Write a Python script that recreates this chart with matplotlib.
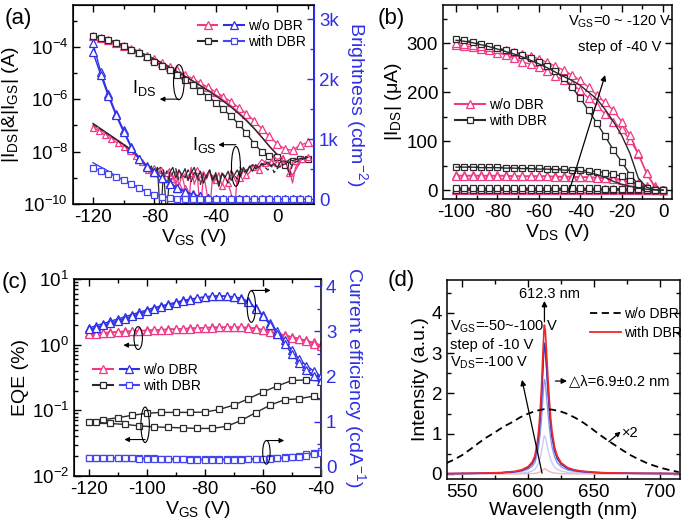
import numpy as np
import matplotlib
matplotlib.use("Agg")
import matplotlib.pyplot as plt
from matplotlib.patches import Ellipse
from matplotlib.lines import Line2D
from matplotlib.legend_handler import HandlerTuple
from matplotlib.ticker import MultipleLocator, FixedLocator, FuncFormatter, LogLocator, NullFormatter

plt.rcParams['font.family'] = ['Liberation Sans', 'DejaVu Sans']
plt.rcParams['mathtext.fontset'] = 'custom'
plt.rcParams['mathtext.rm'] = 'Liberation Sans'
plt.rcParams['mathtext.it'] = 'Liberation Sans:italic'
plt.rcParams['mathtext.default'] = 'regular'
plt.rcParams['axes.unicode_minus'] = False

# %% panel (a): transfer curves, log10 of current, and brightness
vgs_a = np.arange(-120, 21, 5)
ids_wo_fwd_log = [-3.58, -3.66, -3.75, -3.85, -3.96, -4.08, -4.2, -4.33, -4.46, -4.6, -4.75, -4.9, -5.06, -5.22,
                  -5.38, -5.55, -5.72, -5.9, -6.1, -6.32, -6.55, -6.82, -7.12, -7.42, -7.7, -7.9, -7.95, -7.75, -7.65]
ids_wo_rev_log = [-3.6, -3.68, -3.78, -3.88, -4.0, -4.12, -4.25, -4.38, -4.52, -4.67, -4.82, -4.98, -5.14, -5.3,
                  -5.47, -5.65, -5.83, -6.03, -6.25, -6.5, -6.78, -7.1, -7.45, -7.8, -8.1, -8.5, -8.9, -8.4, -8.3]
ids_w_fwd_log = [-3.58, -3.65, -3.74, -3.85, -3.97, -4.1, -4.24, -4.4, -4.56, -4.73, -4.9, -5.08, -5.27, -5.47,
                 -5.68, -5.9, -6.13, -6.38, -6.65, -6.95, -7.3, -7.7, -8.0, -8.15, -8.2, -8.5, -8.35, -8.3, -8.27]
ids_w_rev_log = [-3.57, -3.64, -3.72, -3.82, -3.93, -4.05, -4.18, -4.32, -4.46, -4.62, -4.78, -4.95, -5.12, -5.3,
                 -5.48, -5.67, -5.87, -6.08, -6.3, -6.55, -6.82, -7.12, -7.45, -7.8, -8.12, -8.35, -8.45, -8.32, -8.25]

vgs_igs = np.arange(-120, 21, 2)
igs_wo_1_log = [-7.1, -7.15, -7.22, -7.3, -7.37, -7.45, -7.52, -7.6, -7.67, -7.75, -7.82, -7.9, -7.98, -8.05, -8.15,
                -8.25, -8.38, -8.5,
                -8.7, -8.85, -8.62, -8.95, -8.7, -9.1, -8.8, -8.65, -9.05, -8.75, -9.3, -8.9, -9.4, -10.5, -8.8,
                -9.0, -8.7, -9.2, -8.85, -9.5, -10.3, -8.9, -9.1, -8.8, -9.3, -8.95, -9.2, -9.6, -10.5, -8.9,
                -9.0, -8.7, -8.9,
                -8.8, -8.6, -8.55, -8.7, -8.5, -8.45, -8.5, -8.4, -8.35, -8.45, -8.6, -8.3, -8.5, -8.8, -8.4,
                -8.35, -8.3, -8.28, -8.25, -8.2]
igs_wo_2_log = [-7.0, -7.08, -7.15, -7.22, -7.3, -7.38, -7.45, -7.52, -7.6, -7.68, -7.76, -7.84, -7.92, -8.0, -8.1,
                -8.2, -8.32, -8.45,
                -8.6, -8.9, -8.7, -9.0, -8.75, -8.9, -9.2, -8.8, -8.95, -9.3, -8.7, -9.0, -8.85, -9.1, -8.6,
                -9.25, -8.9, -10.4, -8.8, -9.05, -8.75, -9.2, -8.9, -9.35, -8.8, -9.0, -9.15, -8.7, -9.0, -9.25,
                -8.85, -8.7, -8.8,
                -8.6, -8.5, -8.65, -8.45, -8.3, -8.4, -8.5, -8.35, -8.2, -8.3, -8.25, -8.15, -8.5, -8.7, -9.2,
                -8.6, -8.4, -8.3, -8.25, -8.2]
igs_w_1_log = [-6.92, -7.0, -7.08, -7.16, -7.24, -7.32, -7.4, -7.48, -7.56, -7.64, -7.72, -7.8, -7.9, -8.0, -8.1,
               -8.22, -8.35, -8.5,
               -8.7, -8.55, -8.9, -8.6, -10.6, -8.7, -10.5, -8.8, -8.6, -9.0, -8.7, -8.9, -8.65, -9.1, -8.8,
               -8.6, -9.0, -8.75, -9.2, -8.9, -8.7, -9.1, -8.8, -9.3, -8.85, -9.0, -8.75, -9.1, -8.9, -8.7,
               -8.95, -8.6, -8.8,
               -8.55, -8.75, -8.5, -8.6, -8.45, -8.5, -8.4, -8.55, -8.45, -8.6, -8.4, -8.35, -8.4, -8.3, -8.35,
               -8.3, -8.28, -8.25, -8.25, -8.22]
igs_w_2_log = [-6.95, -7.03, -7.1, -7.18, -7.26, -7.34, -7.42, -7.5, -7.58, -7.66, -7.74, -7.83, -7.92, -8.02, -8.12,
               -8.25, -8.38, -8.52,
               -8.8, -8.65, -9.0, -8.7, -8.6, -9.05, -8.75, -9.2, -8.8, -8.65, -9.1, -8.85, -9.0, -8.7, -9.15,
               -8.8, -8.95, -9.25, -8.85, -9.0, -8.7, -9.1, -8.9, -9.3, -8.8, -8.95, -9.2, -8.75, -8.9, -9.05,
               -8.6, -8.8, -8.7,
               -8.6, -8.5, -8.65, -8.55, -8.45, -8.6, -8.7, -8.5, -8.8, -8.65, -8.55, -8.5, -8.45, -8.9, -8.5,
               -8.4, -8.35, -8.3, -8.25, -8.2]

br_wo_fwd = [2600, 2130, 1760, 1430, 1150, 880, 680, 560, 460, 360, 270, 195, 130, 85, 50, 25, 10, 4,
             0, 0, 0, 0, 0, 0, 0, 0, 0, 0, 0]
br_wo_rev = [2450, 2080, 1720, 1400, 1120, 860, 665, 545, 450, 350, 262, 188, 125, 80, 48, 23, 9, 3,
             0, 0, 0, 0, 0, 0, 0, 0, 0, 0, 0]
br_w_fwd = [610, 540, 470, 390, 320, 250, 180, 130, 90, 60, 35, 18, 8, 3,
            0, 0, 0, 0, 0, 0, 0, 0, 0, 0, 0, 0, 0, 0, 0]
br_w_rev = [520, 480, 430, 380, 320, 260, 195, 130, 80, 45, 22, 10, 5, 2,
            0, 0, 0, 0, 0, 0, 0, 0, 0, 0, 0, 0, 0, 0, 0]

# %% panel (b): output curves (uA), VGS = -120, -80, -40, 0 V
vds_b = np.arange(-100, 1, 4)
ids_wo_120_a = [300, 299, 297, 295, 292, 289, 286, 282, 278, 274, 268, 261, 253, 245, 235, 224, 210, 194, 179,
                163, 140, 112, 75, 35, 5, 0]
ids_wo_120_b = [297, 295, 292, 289, 286, 281, 276, 269, 262, 257, 251, 243, 233, 225, 216, 204, 188, 172, 156,
                140, 124, 103, 74, 35, 8, 0]
ids_w_120_a = [308, 306, 303, 299, 294, 290, 286, 282, 276, 269, 261, 253, 243, 228, 210, 188, 163, 137, 110,
               82, 58, 32, 12, 4, 1, 0]
ids_w_120_b = [306, 304, 301, 297, 293, 288, 283, 278, 272, 265, 258, 250, 241, 232, 224, 214, 200, 186, 165,
               140, 112, 75, 25, 6, 1, 0]
ids_w_80_a = [48, 48, 48, 47, 47, 47, 46, 46, 46, 45, 45, 44, 44, 43, 42, 41, 40, 38, 36, 33, 28, 20, 11, 4, 1, 0]
ids_w_80_b = [47, 47, 47, 46, 46, 46, 45, 45, 44, 44, 43, 43, 42, 41, 40, 38, 36, 32, 26, 18, 12, 8, 5, 2, 0.5, 0]
ids_wo_80_a = [30, 30, 30, 30, 30, 30, 30, 29, 29, 29, 29, 29, 28, 28, 28, 27, 27, 26, 25, 24, 22, 19, 14, 8, 2, 0]
ids_wo_80_b = [29, 29, 29, 29, 29, 29, 29, 28, 28, 28, 28, 28, 27, 27, 27, 26, 26, 25, 24, 22, 20, 16, 11, 5, 1, 0]
ids_wo_40 = [2.5, 2.5, 2.5, 2.5, 2.5, 2.5, 2.5, 2.5, 2.5, 2.5, 2.5, 2.5, 2.4, 2.4, 2.4, 2.4, 2.3, 2.3, 2.2, 2.1,
             2.0, 1.8, 1.5, 1.0, 0.4, 0]
ids_w_40 = [4, 4, 4, 4, 4, 4, 4, 4, 4, 4, 3.9, 3.9, 3.9, 3.8, 3.8, 3.7, 3.6, 3.5, 3.3, 3.1, 2.8, 2.4, 1.8, 1.0,
            0.4, 0]
ids_wo_0 = [0.2, 0.2, 0.2, 0.2, 0.2, 0.2, 0.2, 0.2, 0.2, 0.2, 0.2, 0.2, 0.2, 0.2, 0.2, 0.2, 0.2, 0.2, 0.2, 0.2,
            0.2, 0.2, 0.1, 0.1, 0.0, 0]
ids_w_0 = [0.3, 0.3, 0.3, 0.3, 0.3, 0.3, 0.3, 0.3, 0.3, 0.3, 0.3, 0.3, 0.3, 0.3, 0.3, 0.3, 0.3, 0.3, 0.3, 0.3,
           0.3, 0.2, 0.2, 0.1, 0.0, 0]

# %% panel (c): EQE (%) and current efficiency (cd/A)
vgs_c_tri = np.arange(-120, -39.9, 2.5)
vgs_c_sq = np.arange(-120, -39.9, 5)
eqe_wo_a = [1.48, 1.5, 1.52, 1.55, 1.58, 1.6, 1.62, 1.64, 1.66, 1.68, 1.7, 1.72, 1.74, 1.76, 1.78, 1.8, 1.82,
            1.84, 1.85, 1.86, 1.86, 1.85, 1.83, 1.78, 1.7, 1.6, 1.5, 1.4, 1.32, 1.24, 1.16, 1.08, 0.98]
eqe_wo_b = [1.45, 1.47, 1.49, 1.52, 1.55, 1.57, 1.6, 1.62, 1.64, 1.66, 1.68, 1.7, 1.72, 1.74, 1.76, 1.78, 1.8,
            1.82, 1.83, 1.84, 1.84, 1.83, 1.8, 1.75, 1.66, 1.56, 1.46, 1.36, 1.28, 1.2, 1.12, 1.04, 0.95]
ce_wo_a = [3.07, 3.12, 3.17, 3.22, 3.27, 3.32, 3.37, 3.42, 3.47, 3.52, 3.56, 3.6, 3.64, 3.68, 3.71, 3.74, 3.76,
           3.78, 3.78, 3.77, 3.76, 3.73, 3.66, 3.52, 3.36, 3.18, 3.0, 2.8, 2.58, 2.38, 2.24, 2.12, 2.0]
ce_wo_b = [3.04, 3.08, 3.13, 3.18, 3.23, 3.28, 3.33, 3.39, 3.44, 3.49, 3.54, 3.58, 3.62, 3.66, 3.7, 3.73, 3.75,
           3.77, 3.78, 3.78, 3.76, 3.72, 3.64, 3.5, 3.33, 3.14, 2.94, 2.72, 2.5, 2.3, 2.15, 2.02, 1.9]
eqe_w_a = [0.066, 0.072, 0.077, 0.084, 0.09, 0.093, 0.093, 0.093, 0.094, 0.103, 0.12, 0.15, 0.19, 0.235, 0.285,
           0.29, 0.28]
eqe_w_b = [0.066, 0.063, 0.061, 0.058, 0.056, 0.055, 0.054, 0.053, 0.053, 0.057, 0.07, 0.092, 0.12, 0.145, 0.15,
           0.165, 0.128]
ce_w_a = [0.20, 0.20, 0.20, 0.20, 0.20, 0.20, 0.19, 0.19, 0.19, 0.19, 0.18, 0.18, 0.18, 0.17, 0.17, 0.17, 0.17,
          0.17, 0.17, 0.17, 0.17, 0.17, 0.18, 0.18, 0.18, 0.19, 0.20, 0.21, 0.23, 0.25, 0.28, 0.31, 0.35]
ce_w_b = [0.20, 0.20, 0.20, 0.19, 0.19, 0.19, 0.19, 0.18, 0.18, 0.18, 0.18, 0.17, 0.17, 0.17, 0.16, 0.16, 0.16,
          0.16, 0.16, 0.16, 0.16, 0.16, 0.17, 0.17, 0.17, 0.18, 0.19, 0.20, 0.21, 0.23, 0.25, 0.28, 0.31]

# %% panel (d): EL spectra
wl_dbr = [538, 550, 560, 570, 580, 590, 595, 600, 603, 605, 607, 608, 609, 610, 611, 612, 612.3, 613, 614, 615,
          616, 617, 618, 620, 622, 625, 630, 635, 640, 650, 660, 680, 700, 715]
shape_dbr = [0.003, 0.004, 0.005, 0.007, 0.01, 0.018, 0.028, 0.05, 0.08, 0.12, 0.22, 0.3, 0.42, 0.57, 0.78, 0.98,
             1.0, 0.96, 0.8, 0.64, 0.5, 0.38, 0.29, 0.18, 0.12, 0.075, 0.042, 0.028, 0.02, 0.012, 0.008, 0.005,
             0.004, 0.003]
vgs_d = [-50, -60, -70, -80, -90, -100]
peak_d = [0.13, 0.95, 2.35, 3.2, 3.25, 3.7]
colors_d = ['#f4b4b4', '#c9ccf2', '#8f92ec', '#4f4fd6', '#3434b4', '#f02828']
wl_ref = [538, 544, 550, 556, 562, 568, 575, 581, 588, 594, 600, 606, 612, 618, 624, 630, 636, 642, 648, 654,
          660, 666, 672, 678, 684, 690, 696, 702, 708, 714]
int_ref = [0.27, 0.36, 0.47, 0.61, 0.76, 0.9, 1.04, 1.17, 1.29, 1.41, 1.5, 1.57, 1.61, 1.6, 1.56, 1.49, 1.39, 1.27,
           1.13, 0.98, 0.84, 0.71, 0.58, 0.46, 0.36, 0.27, 0.2, 0.14, 0.09, 0.05]

# %% styles
pink = '#ee3a86'
blk = '#2a2a2a'
blue = '#2f2fe6'
blue_sq = '#4545ee'
lab_fs = 14
tick_fs = 13.5
leg_fs = 10
mk = dict(mfc='white', mew=0.9)


def style(ax, right=True):
    ax.tick_params(which='both', direction='in', top=True, right=right, labelsize=tick_fs, width=1)
    ax.tick_params(which='major', length=5)
    ax.tick_params(which='minor', length=3)
    for s in ax.spines.values():
        s.set_linewidth(1.1)


def blue_right(ax):
    ax.spines['right'].set_color(blue)
    ax.tick_params(axis='y', which='both', direction='in', colors=blue, labelsize=tick_fs, width=1)
    ax.tick_params(axis='y', which='major', length=5)
    ax.tick_params(axis='y', which='minor', length=3)


def ellipse_arrow(ax, cx, cy, w, h, ay, ax0, ax1):
    ax.add_patch(Ellipse((cx, cy), w, h, transform=ax.transAxes, fill=False, lw=0.8, ec='k', zorder=10))
    ax.annotate('', xy=(ax1, ay), xytext=(ax0, ay), xycoords='axes fraction', textcoords='axes fraction',
                arrowprops=dict(arrowstyle='-|>', lw=0.8, color='k', mutation_scale=7, shrinkA=0, shrinkB=0),
                zorder=10)


fig = plt.figure(figsize=(6.85, 5.27), dpi=100)

# ---------------- (a)
ax_a = fig.add_axes([0.1066, 0.6129, 0.3518, 0.3776])
ax_a.set_yscale('log')
ax_a.plot(vgs_a, 10 ** np.array(ids_wo_fwd_log), color=pink, lw=1.0, marker='^', ms=5.5, **mk)
ax_a.plot(vgs_a, 10 ** np.array(ids_wo_rev_log), color=pink, lw=1.0)
ax_a.plot(vgs_a, 10 ** np.array(ids_w_rev_log), color=blk, lw=1.0)
ax_a.plot(vgs_a, 10 ** np.array(ids_w_fwd_log), color=blk, lw=1.0, marker='s', ms=4.5, **mk)
ax_a.plot(vgs_igs, 10 ** np.array(igs_wo_1_log), color=pink, lw=0.9, marker='^', ms=5, markevery=2, **mk)
ax_a.plot(vgs_igs, 10 ** np.array(igs_wo_2_log), color=pink, lw=0.9)
ax_a.plot(vgs_igs, 10 ** np.array(igs_w_1_log), color=blk, lw=0.9)
ax_a.plot(vgs_igs, 10 ** np.array(igs_w_2_log), color=blk, lw=0.9, ls=(0, (4, 2)))
ax_a.set_xlim(-133, 24)
ax_a.set_ylim(1e-10, 10 ** -2.4)
ax_a.yaxis.set_major_locator(FixedLocator([1e-10, 1e-8, 1e-6, 1e-4]))
ax_a.yaxis.set_minor_locator(FixedLocator([1e-9, 1e-7, 1e-5, 1e-3]))
ax_a.yaxis.set_minor_formatter(NullFormatter())
ax_a.xaxis.set_major_locator(MultipleLocator(40))
ax_a.xaxis.set_minor_locator(MultipleLocator(20))
style(ax_a, right=False)
ax_a.set_xlabel('V$_{GS}$ (V)', fontsize=lab_fs, labelpad=1)
ax_a.set_ylabel('|I$_{DS}$|&|I$_{GS}$| (A)', fontsize=lab_fs, labelpad=2)

ax_a2 = ax_a.twinx()
ax_a2.plot(vgs_a, br_wo_fwd, color=blue, lw=1.0, marker='^', ms=5.5, **mk)
ax_a2.plot(vgs_a, br_wo_rev, color=blue, lw=1.0, marker='^', ms=5.5, **mk)
ax_a2.plot(vgs_a, br_w_fwd, color=blue_sq, lw=1.0)
ax_a2.plot(vgs_a, br_w_rev, color=blue_sq, lw=1.0, marker='s', ms=4.5, **mk)
ax_a2.set_ylim(-78, 3240)
ax_a2.yaxis.set_major_locator(MultipleLocator(1000))
ax_a2.yaxis.set_minor_locator(MultipleLocator(500))
ax_a2.yaxis.set_major_formatter(FuncFormatter(lambda v, p: '0' if v == 0 else '%dk' % (v / 1000)))
blue_right(ax_a2)
ax_a2.set_ylabel('Brightness (cdm$^{-2}$)', fontsize=lab_fs, color=blue, rotation=270, va='bottom', labelpad=4)

h1 = [Line2D([], [], color=pink, marker='^', ms=5.5, **mk), Line2D([], [], color=blue, marker='^', ms=5.5, **mk)]
h2 = [Line2D([], [], color=blk, marker='s', ms=4.5, **mk), Line2D([], [], color=blue_sq, marker='s', ms=4.5, **mk)]
ax_a2.legend([tuple(h1), tuple(h2)], ['w/o DBR', 'with DBR'], handler_map={tuple: HandlerTuple(ndivide=None, pad=0.5)},
             handlelength=3.3, handletextpad=0.3, fontsize=leg_fs, frameon=False, loc='upper left',
             bbox_to_anchor=(0.49, 0.965), borderpad=0, labelspacing=0.15)

ellipse_arrow(ax_a2, 0.439, 0.612, 0.044, 0.176, 0.527, 0.439, 0.36)
ax_a2.text(0.345, 0.585, 'I$_{DS}$', transform=ax_a2.transAxes, fontsize=13, ha='right', va='center')
ellipse_arrow(ax_a2, 0.676, 0.189, 0.037, 0.2, 0.298, 0.676, 0.603)
ax_a2.text(0.598, 0.294, 'I$_{GS}$', transform=ax_a2.transAxes, fontsize=13, ha='right', va='center')
fig.text(0.007, 0.985, '(a)', fontsize=16, va='top')

# ---------------- (b)
ax_b = fig.add_axes([0.6467, 0.6224, 0.3343, 0.3681])
for y in [ids_wo_0, ids_wo_40, ids_wo_80_a, ids_wo_80_b, ids_wo_120_b, ids_wo_120_a]:
    ax_b.plot(vds_b, y, color=pink, lw=1.0, marker='^', ms=5.5, **mk)
for y in [ids_w_0, ids_w_40, ids_w_80_a, ids_w_120_a]:
    ax_b.plot(vds_b, y, color=blk, lw=1.0, marker='s', ms=4.5, **mk)
for y in [ids_w_80_b, ids_w_120_b]:
    ax_b.plot(vds_b, y, color=blk, lw=1.0)
ax_b.set_xlim(-106.3, 4.3)
ax_b.set_ylim(-18, 378)
ax_b.xaxis.set_major_locator(MultipleLocator(20))
ax_b.xaxis.set_minor_locator(MultipleLocator(10))
ax_b.yaxis.set_major_locator(MultipleLocator(100))
ax_b.yaxis.set_minor_locator(MultipleLocator(50))
style(ax_b)
ax_b.set_xlabel('V$_{DS}$ (V)', fontsize=lab_fs, labelpad=1)
ax_b.set_ylabel('|I$_{DS}$| (μA)', fontsize=lab_fs, labelpad=2)
ax_b.legend([Line2D([], [], color=pink, marker='^', ms=5.5, **mk), Line2D([], [], color=blk, marker='s', ms=4.5, **mk)],
            ['w/o DBR', 'with DBR'], handlelength=2.2, handletextpad=0.25, fontsize=leg_fs, frameon=False,
            loc='upper left', bbox_to_anchor=(0.02, 0.555), borderpad=0, labelspacing=0.15)
ax_b.annotate('', xy=(-28, 235), xytext=(-45.5, -4),
              arrowprops=dict(arrowstyle='-|>', lw=0.9, color='k', mutation_scale=8, shrinkA=0, shrinkB=0))
ax_b.text(-21, 343, 'V$_{GS}$=0 ~ -120 V', fontsize=10.5, ha='center', va='center')
ax_b.text(-21, 293, 'step of -40 V', fontsize=10.5, ha='center', va='center')
fig.text(0.552, 0.985, '(b)', fontsize=16, va='top')

# ---------------- (c)
ax_c = fig.add_axes([0.108, 0.0968, 0.3606, 0.3738])
ax_c.set_yscale('log')
ax_c.plot(vgs_c_tri, eqe_wo_a, color=pink, lw=1.0, marker='^', ms=5.5, **mk)
ax_c.plot(vgs_c_tri, eqe_wo_b, color=pink, lw=1.0, marker='^', ms=5.5, **mk)
ax_c.plot(vgs_c_sq, eqe_w_a, color=blk, lw=1.0, marker='s', ms=4.5, **mk)
ax_c.plot(vgs_c_sq + 2.5, eqe_w_b, color=blk, lw=1.0, marker='s', ms=4.5, **mk)
ax_c.set_xlim(-125, -40)
ax_c.set_ylim(0.01, 10)
ax_c.yaxis.set_major_locator(LogLocator(base=10, numticks=10))
ax_c.yaxis.set_minor_locator(LogLocator(base=10, subs=np.arange(2, 10), numticks=20))
ax_c.yaxis.set_minor_formatter(NullFormatter())
ax_c.xaxis.set_major_locator(MultipleLocator(20))
ax_c.xaxis.set_minor_locator(MultipleLocator(10))
style(ax_c, right=False)
ax_c.set_xlabel('V$_{GS}$ (V)', fontsize=lab_fs, labelpad=1)
ax_c.set_ylabel('EQE (%)', fontsize=lab_fs, labelpad=2)

ax_c2 = ax_c.twinx()
ax_c2.plot(vgs_c_tri, ce_wo_a, color=blue, lw=1.0, marker='^', ms=5.5, **mk)
ax_c2.plot(vgs_c_tri, ce_wo_b, color=blue, lw=1.0, marker='^', ms=5.5, **mk)
ax_c2.plot(vgs_c_tri, ce_w_a, color=blue_sq, lw=1.0, marker='s', ms=4.5, **mk)
ax_c2.plot(vgs_c_tri, ce_w_b, color=blue_sq, lw=1.0, marker='s', ms=4.5, **mk)
ax_c2.set_ylim(-0.2, 4.155)
ax_c2.yaxis.set_major_locator(MultipleLocator(1))
ax_c2.yaxis.set_minor_locator(MultipleLocator(0.5))
blue_right(ax_c2)
ax_c2.set_ylabel('Current efficiency (cdA$^{-1}$)', fontsize=lab_fs, color=blue, rotation=270, va='bottom',
                 labelpad=4)
ax_c2.legend([tuple(h1), tuple(h2)], ['w/o DBR', 'with DBR'], handler_map={tuple: HandlerTuple(ndivide=None, pad=0.5)},
             handlelength=3.3, handletextpad=0.3, fontsize=leg_fs, frameon=False, loc='upper left',
             bbox_to_anchor=(0.05, 0.61), borderpad=0, labelspacing=0.15)
ellipse_arrow(ax_c2, 0.26, 0.70, 0.034, 0.116, 0.664, 0.26, 0.2)
ellipse_arrow(ax_c2, 0.288, 0.26, 0.034, 0.18, 0.185, 0.288, 0.204)
ax_c2.add_patch(Ellipse((0.718, 0.86), 0.034, 0.16, transform=ax_c2.transAxes, fill=False, lw=0.8, ec='k', zorder=10))
ax_c2.annotate('', xy=(0.796, 0.942), xytext=(0.718, 0.942), xycoords='axes fraction', textcoords='axes fraction',
               arrowprops=dict(arrowstyle='-|>', lw=0.8, color='k', mutation_scale=7, shrinkA=0, shrinkB=0))
ax_c2.add_patch(Ellipse((0.779, 0.12), 0.03, 0.12, transform=ax_c2.transAxes, fill=False, lw=0.8, ec='k', zorder=10))
ax_c2.annotate('', xy=(0.851, 0.18), xytext=(0.779, 0.18), xycoords='axes fraction', textcoords='axes fraction',
               arrowprops=dict(arrowstyle='-|>', lw=0.8, color='k', mutation_scale=7, shrinkA=0, shrinkB=0))
fig.text(0.003, 0.483, '(c)', fontsize=16, va='top')

# ---------------- (d)
ax_d = fig.add_axes([0.6526, 0.0911, 0.3401, 0.3776])
for pk, c in zip(peak_d, colors_d):
    ax_d.plot(wl_dbr, pk * np.array(shape_dbr), color=c, lw=1.2 if c == colors_d[-1] else 1.0)
ax_d.plot(wl_ref, int_ref, color='k', lw=1.3, ls=(0, (4, 2.5)))
ax_d.set_xlim(538.5, 715)
ax_d.set_ylim(-0.124, 4.82)
ax_d.xaxis.set_major_locator(MultipleLocator(50))
ax_d.xaxis.set_minor_locator(MultipleLocator(25))
ax_d.yaxis.set_major_locator(MultipleLocator(1))
ax_d.yaxis.set_minor_locator(MultipleLocator(0.5))
style(ax_d)
ax_d.set_xlabel('Wavelength (nm)', fontsize=lab_fs, labelpad=1)
ax_d.set_ylabel('Intensity (a.u.)', fontsize=lab_fs, labelpad=2)
ax_d.legend([Line2D([], [], color='k', lw=1.3, ls=(0, (4, 2.5))), Line2D([], [], color=colors_d[-1], lw=1.3)],
            ['w/o DBR', 'with DBR'], handlelength=2.2, handletextpad=0.25, fontsize=leg_fs, frameon=False,
            loc='upper left', bbox_to_anchor=(0.585, 0.9), borderpad=0, labelspacing=0.35)
ax_d.annotate('', xy=(612.3, 4.3), xytext=(612.3, 3.78),
              arrowprops=dict(arrowstyle='-|>', lw=0.9, color='k', mutation_scale=8, shrinkA=0, shrinkB=0))
ax_d.text(616, 4.47, '612.3 nm', fontsize=10.5, ha='center', va='center')
ax_d.text(541, 3.66, 'V$_{GS}$=-50~-100 V', fontsize=10.5, ha='left', va='center')
ax_d.text(541, 3.2, 'step of -10 V', fontsize=10.5, ha='left', va='center')
ax_d.text(541, 2.76, 'V$_{DS}$=-100 V', fontsize=10.5, ha='left', va='center')
ax_d.annotate('', xy=(595.3, 2.34), xytext=(610.5, 0.02),
              arrowprops=dict(arrowstyle='-|>', lw=0.9, color='k', mutation_scale=8, shrinkA=0, shrinkB=0))
ax_d.annotate('', xy=(629.4, 2.31), xytext=(620.6, 2.31),
              arrowprops=dict(arrowstyle='-|>', lw=0.9, color='k', mutation_scale=8, shrinkA=0, shrinkB=0))
ax_d.text(631, 2.31, '△λ=6.9±0.2 nm', fontsize=10.5, ha='left', va='center')
ax_d.annotate('', xy=(670, 1.05), xytext=(661, 0.8),
              arrowprops=dict(arrowstyle='-|>', lw=0.9, color='k', mutation_scale=7, shrinkA=0, shrinkB=0))
ax_d.text(671, 1.02, '×2', fontsize=10.5, ha='left', va='center')
fig.text(0.566, 0.488, '(d)', fontsize=16, va='top')

fig.savefig('out.png', dpi=100, facecolor='white')
